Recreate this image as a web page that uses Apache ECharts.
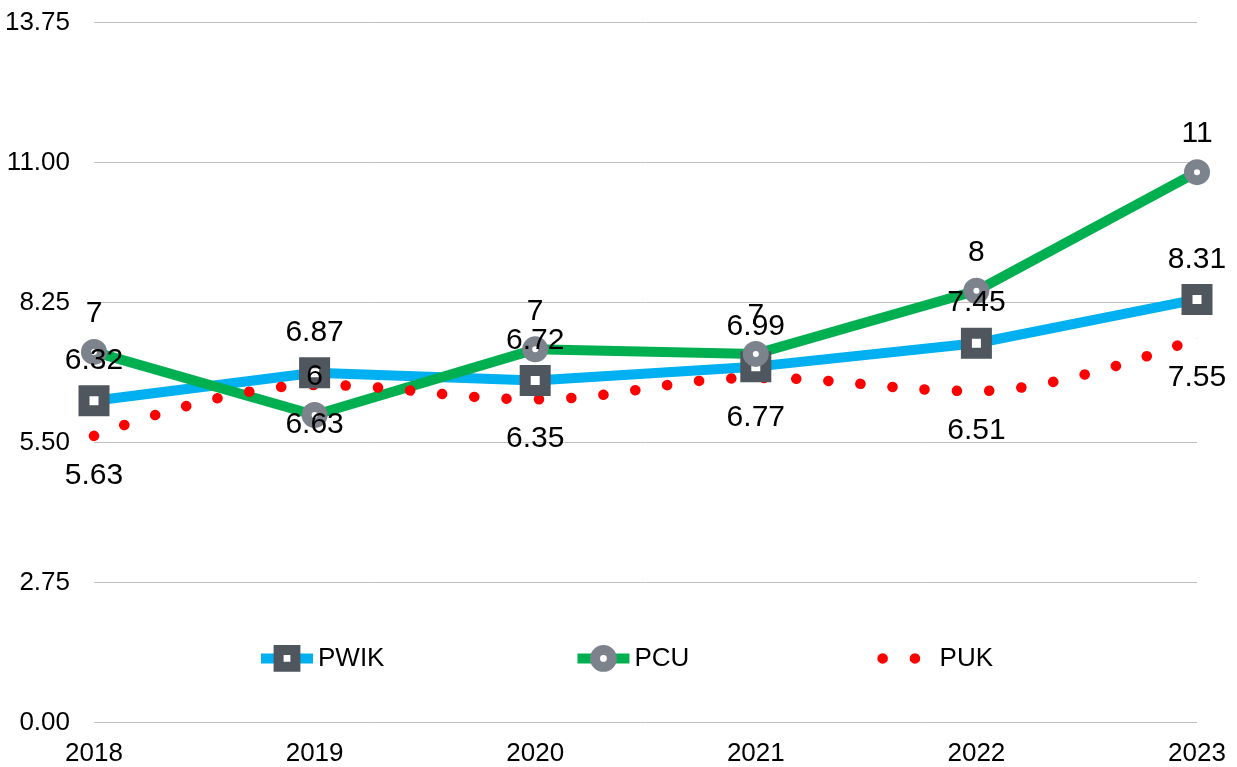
<!DOCTYPE html>
<html>
<head>
<meta charset="utf-8">
<script src="https://cdn.jsdelivr.net/npm/echarts@6/dist/echarts.min.js"></script>
<style>
html, body { margin: 0; padding: 0; background: #fff; }
#chart { width: 1237px; height: 767px; }
</style>
</head>
<body>
<div id="chart"></div>
<script>
var years = ['2018', '2019', '2020', '2021', '2022', '2023'];
var pwik = [6.32, 6.87, 6.72, 6.99, 7.45, 8.31];
var pcu = [7.28, 6.04, 7.33, 7.24, 8.48, 10.81];
var puk = [5.63, 6.63, 6.35, 6.77, 6.51, 7.55];

var FONT = '"Liberation Sans", Arial, sans-serif';

var chart = echarts.init(document.getElementById('chart'));

// etykiety danych
function dataLabel(dy, fmt) {
    return {
        show: true,
        position: 'inside',
        offset: [0, dy],
        color: '#000',
        fontSize: 30,
        fontFamily: FONT,
        formatter: fmt
    };
}

chart.setOption({
    animation: false,
    grid: { left: 94, right: 40, top: 22.5, bottom: 44.5 },
    legend: {
        left: 256,
        top: 645,
        padding: 0,
        itemGap: 188,
        itemWidth: 52,
        itemHeight: 21,
        textStyle: { fontSize: 26, color: '#000', fontFamily: FONT },
        data: [
            { name: 'PWIK', itemStyle: { borderWidth: 10 }, lineStyle: { width: 10 } },
            { name: 'PCU', itemStyle: { borderWidth: 10 }, lineStyle: { width: 10 } },
            { name: 'PUK', itemStyle: { opacity: 0 }, lineStyle: { width: 10.5 } }
        ]
    },
    xAxis: {
        type: 'category',
        boundaryGap: false,
        data: years,
        axisLine: { show: false },
        axisTick: { show: false },
        axisLabel: { fontSize: 26, margin: 18, color: '#000', fontFamily: FONT }
    },
    yAxis: {
        type: 'value',
        min: 0,
        max: 13.75,
        interval: 2.75,
        axisLine: { show: false },
        axisTick: { show: false },
        axisLabel: {
            fontSize: 26, margin: 24, color: '#000', fontFamily: FONT,
            formatter: function (v) { return v.toFixed(2); }
        },
        splitLine: { lineStyle: { color: '#c0c0c0', width: 1 } }
    },
    series: [
        {
            name: 'PWIK',
            type: 'line',
            data: pwik,
            symbol: 'rect',
            symbolSize: 20,
            itemStyle: { color: '#fff', borderColor: '#50565e', borderWidth: 11 },
            lineStyle: { color: '#00b0f0', width: 10 },
            label: dataLabel(-40, function (p) { return p.value.toFixed(2); }),
            emphasis: { disabled: true }
        },
        {
            name: 'PCU',
            type: 'line',
            data: pcu,
            symbol: 'circle',
            symbolSize: 16,
            itemStyle: { color: '#fff', borderColor: '#7d838c', borderWidth: 10 },
            lineStyle: { color: '#00b050', width: 10 },
            label: dataLabel(-38, function (p) { return String(Math.round(p.value)); }),
            emphasis: { disabled: true }
        },
        {
            name: 'PUK',
            type: 'line',
            data: puk,
            symbol: 'circle',
            symbolSize: 0.5,
            smooth: 0.4,
            itemStyle: { color: '#ff0000' },
            lineStyle: { color: '#ff0000', width: 10.5, type: [0.1, 32.2], cap: 'round' },
            label: dataLabel(40, function (p) { return p.value.toFixed(2); }),
            emphasis: { disabled: true }
        }
    ]
});
</script>
</body>
</html>
